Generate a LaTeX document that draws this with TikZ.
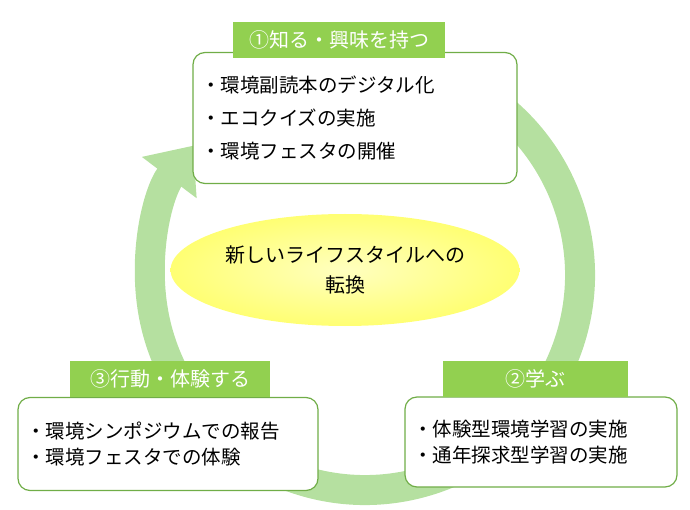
\documentclass[tikz,border=0pt]{standalone}
\usepackage{fontspec}
\setmainfont{Noto Sans CJK JP}[BoldFont=Noto Sans CJK JP Bold]
\usetikzlibrary{arrows.meta,shapes.geometric}
\definecolor{ringgreen}{HTML}{B5E0A0}
\definecolor{tabgreen}{HTML}{92D050}
\definecolor{edgegreen}{HTML}{70AD47}
\begin{document}
\begin{tikzpicture}[x=1pt,y=1pt,
    card/.style={draw=edgegreen,line width=1.2pt,rounded corners=12pt,fill=white,
      text width=#1,align=left,font=\fontsize{19.5}{33}\selectfont,inner xsep=8pt},
    tab/.style={fill=tabgreen,text=white,font=\fontsize{20}{22}\selectfont,
      minimum height=36pt,inner xsep=8pt}]
  \useasboundingbox (0,0) rectangle (690,509);
  % cycle ring
  \draw[ringgreen,line width=30pt,-{Triangle[length=40pt,width=66pt]}]
    (365,234) ++(70:215) arc[start angle=70,end angle=-217,radius=215];
  % centre
  \node[ellipse,minimum width=345pt,minimum height=112pt,
    inner color=yellow!25,outer color=yellow!55!white,
    font=\fontsize{20}{30}\selectfont,align=center] (goal) at (345,239)
    {新しいライフスタイルへの\\転換};
  % cards
  \node[card=308pt,minimum height=131pt] (know) at (355,391)
    {・環境副読本のデジタル化\\・エコクイズの実施\\・環境フェスタの開催};
  \node[tab,minimum width=212pt] (knowtab) at (339,469) {①知る・興味を持つ};
  \node[card=256pt,minimum height=90pt,font=\fontsize{19.5}{26}\selectfont] (learn) at (541,67)
    {・体験型環境学習の実施\\・通年探求型学習の実施};
  \node[tab,minimum width=185pt] (learntab) at (535,130) {②学ぶ};
  \node[card=284pt,minimum height=93pt,font=\fontsize{19.5}{26}\selectfont] (act) at (168,65)
    {・環境シンポジウムでの報告\\・環境フェスタでの体験};
  \node[tab,minimum width=200pt] (acttab) at (170,130) {③行動・体験する};
\end{tikzpicture}
\end{document}
